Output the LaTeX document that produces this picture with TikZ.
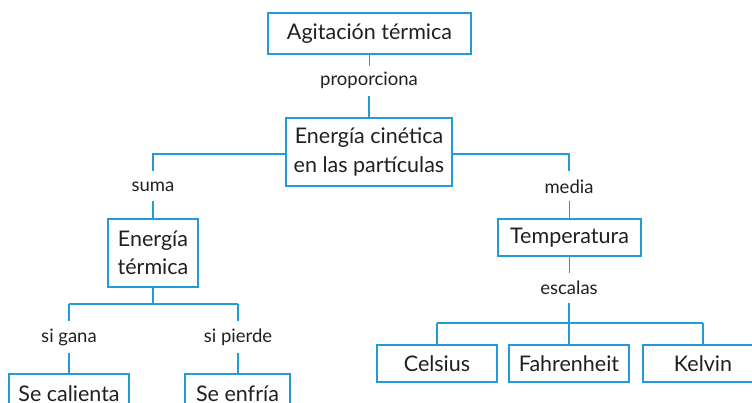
\documentclass[tikz,border=0pt]{standalone}
\usepackage{fontspec}
\setmainfont{Lato}
\definecolor{mapblue}{RGB}{35,155,215}
\definecolor{txt}{RGB}{35,31,32}
\begin{document}
\begin{tikzpicture}[x=1pt,y=-1pt,
  box/.style={draw=mapblue,line width=1.8pt,fill=white,text=txt,font=\fontsize{21.5}{28.5}\selectfont,align=center,inner sep=0pt},
  lbl/.style={text=txt,font=\fontsize{18.5}{22}\selectfont,inner sep=0pt},
  conn/.style={draw=mapblue,line width=1.8pt}]
\useasboundingbox (0,0) rectangle (752,403);
\clip (0,0) rectangle (752,403);
% boxes
\node[box,minimum width=203pt,minimum height=41pt] (agit) at (369.5,33.5) {Agitación térmica};
\node[box,minimum width=166pt,minimum height=68pt] (ecin) at (369,152) {Energía cinética\\en las partículas};
\node[box,minimum width=90pt,minimum height=68pt] (eter) at (153,253) {Energía\\térmica};
\node[box,minimum width=143pt,minimum height=37pt] (temp) at (569.5,237.5) {Temperatura};
\node[box,minimum width=120pt,minimum height=37pt] (cels) at (437,363.5) {Celsius};
\node[box,minimum width=120pt,minimum height=37pt] (fahr) at (569,363.5) {Fahrenheit};
\node[box,minimum width=120pt,minimum height=37pt] (kelv) at (703,363.5) {Kelvin};
\node[box,minimum width=120pt,minimum height=40pt,anchor=north] (cal) at (69,373) {\raisebox{-1pt}{Se calienta}};
\node[box,minimum width=105pt,minimum height=40pt,anchor=north] (enf) at (237.5,373) {\raisebox{-1pt}{Se enfría}};
% labels
\node[lbl] (prop) at (369,80) {proporciona};
\node[lbl] (suma) at (153,186.5) {suma};
\node[lbl] (media) at (569,186.5) {media};
\node[lbl] (esc) at (569,287.5) {escalas};
\node[lbl] (gana) at (69,337.5) {si gana};
\node[lbl] (pier) at (238,337.5) {si pierde};
% junctions
\coordinate (jl) at (153,154);
\coordinate (jr) at (569,154);
\coordinate (jt) at (153,304);
\coordinate (jtl) at (69,304);
\coordinate (jtr) at (238,304);
\coordinate (js) at (569,323);
\coordinate (jsl) at (437,323);
\coordinate (jsr) at (703,323);
% connectors
\draw[conn] (agit.south) -- ++(0,11);
\draw[conn] (ecin.north) -- ++(0,-21);
\draw[conn] (ecin.west |- jl) -- (jl) -- ++(0,17);
\draw[conn] (ecin.east |- jr) -- (jr) -- ++(0,17);
\draw[conn] (eter.north) -- ++(0,-17);
\draw[conn] (temp.north) -- ++(0,-17);
\draw[conn] (temp.south) -- ++(0,16);
\draw[conn] (fahr.north) -- (569,303);
\draw[conn] (jsl) -- (jsr);
\draw[conn] (cels.north) -- (jsl);
\draw[conn] (kelv.north) -- (jsr);
\draw[conn] (eter.south) -- (jt);
\draw[conn] (jtl) -- (jtr);
\draw[conn] (jtl) -- ++(0,17);
\draw[conn] (jtr) -- ++(0,17);
\draw[conn] (cal.north) -- ++(0,-20);
\draw[conn] (cal.north -| pier) -- ++(0,-20);
\end{tikzpicture}
\end{document}
